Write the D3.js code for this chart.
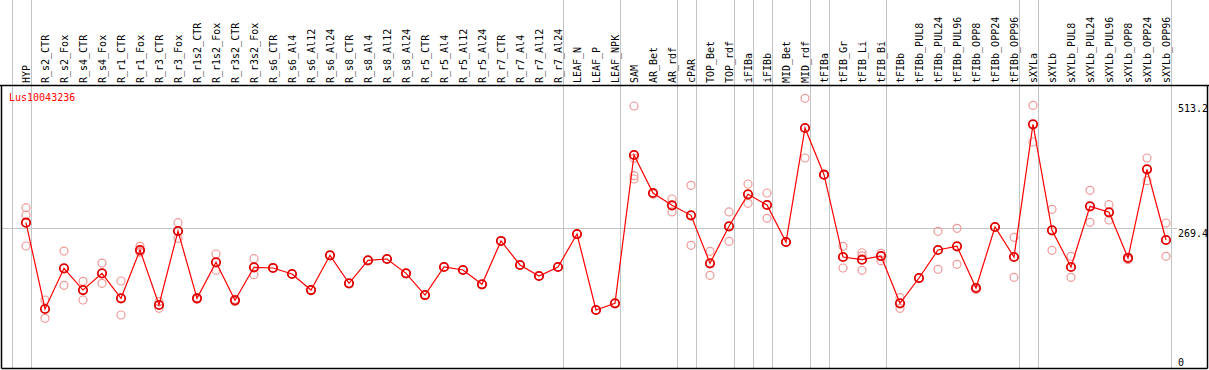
<!DOCTYPE html>
<html><head><meta charset="utf-8">
<script src="https://cdn.jsdelivr.net/npm/d3@7"></script>
<style>
html,body{margin:0;padding:0;background:#fff;}
svg{display:block;}
text{font-family:"DejaVu Sans Mono",monospace;font-size:10px;}
</style></head>
<body>
<script>
const categories = ["HYP","R_s2_CTR","R_s2_Fox","R_s4_CTR","R_s4_Fox","R_r1_CTR","R_r1_Fox","R_r3_CTR","R_r3_Fox","R_r1s2_CTR","R_r1s2_Fox","R_r3s2_CTR","R_r3s2_Fox","R_s6_CTR","R_s6_Al4","R_s6_Al12","R_s6_Al24","R_s8_CTR","R_s8_Al4","R_s8_Al12","R_s8_Al24","R_r5_CTR","R_r5_Al4","R_r5_Al12","R_r5_Al24","R_r7_CTR","R_r7_Al4","R_r7_Al12","R_r7_Al24","LEAF_N","LEAF_P","LEAF_NPK","SAM","AR_Bet","AR_rdf","cPAR","TOP_Bet","TOP_rdf","iFIBa","iFIBb","MID_Bet","MID_rdf","tFIBa","tFIB_Gr","tFIB_Li","tFIB_Bi","tFIBb","tFIBb_PUL8","tFIBb_PUL24","tFIBb_PUL96","tFIBb_OPP8","tFIBb_OPP24","tFIBb_OPP96","sXYLa","sXYLb","sXYLb_PUL8","sXYLb_PUL24","sXYLb_PUL96","sXYLb_OPP8","sXYLb_OPP24","sXYLb_OPP96"];

const means = [280.3,112.8,191.7,149.6,182.0,133.5,227.3,120.5,264.2,133.5,203.4,129.6,193.7,192.4,180.7,149.6,217.0,162.6,207.3,209.8,182.0,139.9,194.3,188.5,160.7,244.8,198.2,176.8,194.3,258.3,110.8,123.8,411.7,337.9,314.0,294.6,201.5,273.3,335.4,314.6,242.8,464.1,373.4,213.7,208.5,215.6,123.8,172.9,227.3,234.5,153.5,271.9,213.7,471.3,265.5,194.3,312.1,300.5,211.8,383.9,246.7];

const replicates = [
 [309.4,295.2,235.1],[130.2,94.7],[225.3,158.7],[166.5,130.2],[202.0,162.6],[167.1,101.1],[234.5,224.0,223.0],[127.0,114.1],[280.3,250.0],[135.0,132.0],
 [219.5,187.9],[131.5,127.5],[210.4,179.4],[192.4],[180.7],[149.6],[217.0],[162.6],[207.3],[209.8],
 [182.0],[139.9],[194.3],[188.5],[160.7],[244.8],[198.2],[176.8],[194.3],[258.3],
 [110.8],[123.8],[506.8,405.3,371.5,365.1],[337.9,335.5],[326.3,301.1],[352.9,236.4],[224.8,178.2],[301.1,244.2],[355.4,317.9],[337.9,288.8],
 [242.8],[521.7,405.9],[373.4],[234.5,192.4],[222.0,216.0,187.9],[220.9,206.5],[134.7,114.1],[172.9],[263.6,189.8],[269.4,199.5],
 [155.0,150.5],[271.9],[251.9,174.3],[508.2,436.9],[306.3,226.7],[215.1,174.3],[343.2,281.1],[315.3,285.5],[213.0,208.5],[405.9,361.8],
 [279.7,215.1]
];

const separatorsAfter = [-1,0,28,31,34,35,37,38,39,41,42,45,52,53,60];
const tickValues = [0,269.4,513.2];
const tickLabels = ["0","269.4","513.2"];
const gridValues = [269.4];
const title = "Lus10043236";

const W = 1209, H = 370;
const svg = d3.select("body").append("svg").attr("width",W).attr("height",H);

const x = d3.scalePoint().domain(categories).range([26,1166]);
const step = x.step();
const y = d3.scaleLinear().domain([0,513.2]).range([367.1,102.7]);

const frame = {l:1.5, t:85.5, r:1207.5, b:368.5};

// separators
svg.append("g").selectAll("line").data(separatorsAfter).join("line")
  .attr("x1",d=> Math.round(x(categories[0]) + d*step + 4.7)+0.5)
  .attr("x2",d=> Math.round(x(categories[0]) + d*step + 4.7)+0.5)
  .attr("y1",0).attr("y2",frame.b)
  .attr("stroke","#c4c4c4").attr("stroke-width",1);

// grid
svg.append("g").selectAll("line").data(gridValues).join("line")
  .attr("x1",frame.l).attr("x2",1177)
  .attr("y1",d=>Math.round(y(d))+0.5).attr("y2",d=>Math.round(y(d))+0.5)
  .attr("stroke","#c4c4c4").attr("stroke-width",1);

// frame
svg.append("line").attr("x1",0).attr("x2",W).attr("y1",frame.t).attr("y2",frame.t).attr("stroke","#000").attr("stroke-width",1.5);
svg.append("line").attr("x1",frame.l).attr("x2",frame.l).attr("y1",frame.t).attr("y2",frame.b).attr("stroke","#000").attr("stroke-width",1.5);
svg.append("line").attr("x1",frame.r).attr("x2",frame.r).attr("y1",frame.t).attr("y2",frame.b).attr("stroke","#000").attr("stroke-width",1.5);
svg.append("line").attr("x1",frame.l).attr("x2",frame.r).attr("y1",frame.b).attr("y2",frame.b).attr("stroke","#000").attr("stroke-width",1.5);

// category labels
svg.append("g").selectAll("text").data(categories).join("text")
  .attr("transform",d=>`translate(${x(d)+3.5},83) rotate(-90)`)
  .attr("text-anchor","start")
  .attr("fill","#000")
  .text(d=>d);

// right axis labels
svg.append("g").selectAll("text").data(tickValues).join("text")
  .attr("x",1178)
  .attr("y",(d,i)=> d===0 ? 366 : y(d)+9)
  .attr("fill","#000")
  .text((d,i)=>tickLabels[i]);

// title
svg.append("text").attr("x",9).attr("y",101).attr("fill","#ff0000").text(title);

// replicates
const repData = [];
replicates.forEach((arr,i)=>arr.forEach(v=>repData.push({c:categories[i],v})));
svg.append("g").selectAll("circle").data(repData).join("circle")
  .attr("cx",d=>x(d.c)).attr("cy",d=>y(d.v)).attr("r",4)
  .attr("fill","none").attr("stroke","#f09a9a").attr("stroke-width",1.2);

// line
const line = d3.line().x((d,i)=>x(categories[i])).y(d=>y(d));
svg.append("path").datum(means).attr("d",line)
  .attr("fill","none").attr("stroke","#ff0000").attr("stroke-width",1.2);

// mean markers
svg.append("g").selectAll("circle").data(means).join("circle")
  .attr("cx",(d,i)=>x(categories[i])).attr("cy",d=>y(d)).attr("r",4.2)
  .attr("fill","none").attr("stroke","#e00000").attr("stroke-width",1.8);
</script>
</body></html>
